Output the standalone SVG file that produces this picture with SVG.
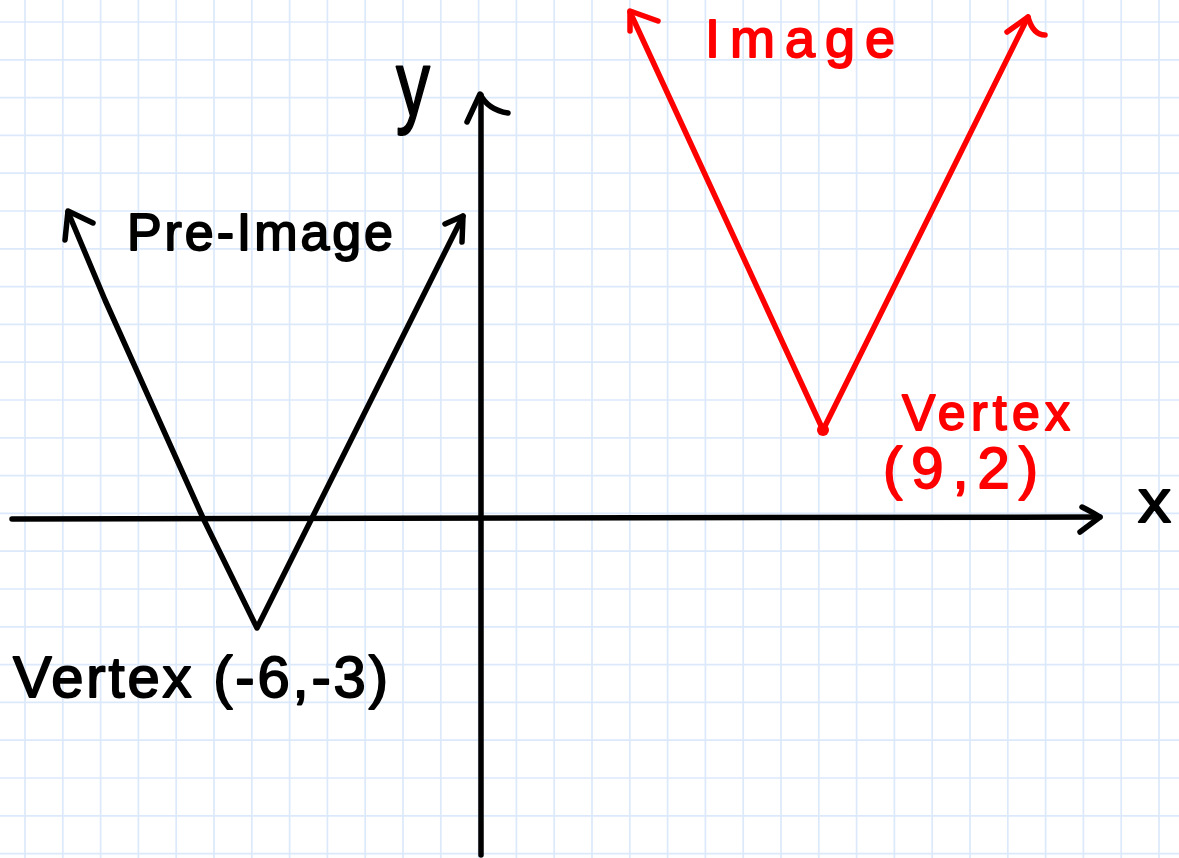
<svg xmlns="http://www.w3.org/2000/svg" width="1179" height="858" viewBox="0 0 1179 858">
<style>
.grid{stroke:#dce9fb;stroke-width:1.7;fill:none}
.pen{fill:none;stroke-linecap:round;stroke-linejoin:round;stroke-width:5.5}
.blk{stroke:#000}
.red{stroke:#ff0000}
.t{font-family:"Liberation Sans",Arial,sans-serif;stroke-width:1.8;stroke-linejoin:round}
.tb{fill:#000;stroke:#000}
.tr{fill:#ff0000;stroke:#ff0000}
</style>
<rect width="1179" height="858" fill="#ffffff"/>
<g id="grid">
<path class="grid" d="M25 0V858M62.8 0V858M100.6 0V858M138.4 0V858M176.2 0V858M214 0V858M251.8 0V858M289.6 0V858M327.4 0V858M365.2 0V858M403 0V858M440.8 0V858M478.6 0V858M516.4 0V858M554.2 0V858M592 0V858M629.8 0V858M667.6 0V858M705.4 0V858M743.2 0V858M781 0V858M818.8 0V858M856.6 0V858M894.4 0V858M932.2 0V858M970 0V858M1007.8 0V858M1045.6 0V858M1083.4 0V858M1121.2 0V858M1159 0V858M0 22H1179M0 59.8H1179M0 97.6H1179M0 135.4H1179M0 173.2H1179M0 211H1179M0 248.8H1179M0 286.6H1179M0 324.4H1179M0 362.2H1179M0 400H1179M0 437.8H1179M0 475.6H1179M0 513.4H1179M0 551.2H1179M0 589H1179M0 626.8H1179M0 664.6H1179M0 702.4H1179M0 740.2H1179M0 778H1179M0 815.8H1179M0 853.6H1179"/>
</g>
<g id="connectors">
<g id="x-axis">
<path class="pen blk" d="M12 519L1100 517"/>
<path class="pen blk" d="M1082 507Q1092 512 1100 517L1080 532"/>
</g>
<g id="y-axis">
<path class="pen blk" d="M481 855L481 95"/>
<path class="pen blk" d="M467 122L480 94Q488 110 508 113"/>
</g>
</g>
<g id="pre-image">
<path class="pen blk" d="M68 212L105 300L203 518L257 628L463 216"/>
<path class="pen blk" d="M65 240L68 211L93 223"/>
<path class="pen blk" d="M445 224L463 216L462 242"/>
</g>
<g id="image">
<path class="pen red" d="M630 12L823 430L1028 17"/>
<circle cx="823" cy="430" r="6" fill="#ff0000"/>
<path class="pen red" d="M630 31L630 11L658 21"/>
<path class="pen red" d="M1007 32L1028 17Q1033 35 1045 35"/>
</g>
<g id="labels">
<text class="t tb" x="127" y="250" font-size="52" textLength="266" lengthAdjust="spacing">Pre-Image</text>
<text class="t tr" x="705" y="57" font-size="54" textLength="190" lengthAdjust="spacing">Image</text>
<text class="t tb" x="396" y="116" font-size="92" textLength="34" lengthAdjust="spacingAndGlyphs">y</text>
<text class="t tb" x="1138" y="522" font-size="62" textLength="33" lengthAdjust="spacingAndGlyphs">x</text>
<text class="t tb" x="13" y="697" font-size="58" textLength="375" lengthAdjust="spacing">Vertex (-6,-3)</text>
<text class="t tr" x="902" y="430" font-size="50" textLength="168" lengthAdjust="spacing">Vertex</text>
<text class="t tr" x="883" y="488" font-size="58" textLength="155" lengthAdjust="spacing">(9,2)</text>
</g>
</svg>
